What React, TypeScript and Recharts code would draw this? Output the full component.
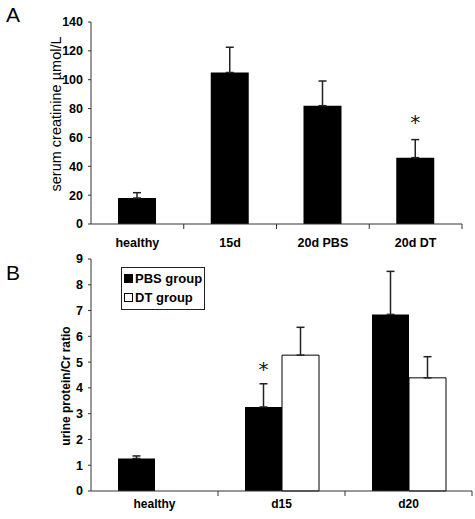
import React from 'react';
import { BarChart, Bar, XAxis, YAxis, ErrorBar, LabelList, Legend } from 'recharts';

const FONT = '"Liberation Sans", Arial, Helvetica, sans-serif';
const AXIS = '#333';

// panel A: serum creatinine
const groupsA = ['healthy', '15d', '20d PBS', '20d DT'];
const creatinine = [18, 105, 82, 46];
const creatinineErr = [3.7, 17.5, 17.1, 12.5];
const sigA = ['', '', '', '*'];
const ticksA = [0, 20, 40, 60, 80, 100, 120, 140];

// panel B: urine protein / creatinine ratio
const seriesB = ['PBS group', 'DT group'];
const groupsB = ['healthy', 'd15', 'd20'];
const pbsRatio = [1.26, 3.26, 6.85];
const pbsErr = [0.1, 0.9, 1.67];
const dtRatio = [null, 5.27, 4.39];
const dtErr = [null, 1.08, 0.82];
const sigB = ['', '*', ''];
const ticksB = [0, 1, 2, 3, 4, 5, 6, 7, 8, 9];

const dataA = groupsA.map((name, i) => ({
  name,
  value: creatinine[i],
  err: [0, creatinineErr[i]],
  sig: sigA[i],
}));

const dataB = groupsB.map((name, i) => ({
  name,
  pbs: pbsRatio[i],
  pbsErr: [0, pbsErr[i]],
  dt: dtRatio[i],
  dtErr: dtErr[i] == null ? null : [0, dtErr[i]],
  sig: sigB[i],
}));

const CatTick = ({ x, y, payload, dy, fontSize, half }: any) => {
  const off = payload && payload.offset ? payload.offset : half;
  return (
    <g>
      <line x1={x + off} x2={x + off} y1={y} y2={y + 5} stroke={AXIS} strokeWidth={1} />
      <text x={x} y={y + dy} textAnchor="middle" fontFamily={FONT} fontWeight="bold" fontSize={fontSize} fill="#000">
        {payload.value}
      </text>
    </g>
  );
};

const AxisTitle = ({ cx, cy, text, size, weight }: any) => (
  <text
    x={cx}
    y={cy}
    transform={`rotate(-90, ${cx}, ${cy})`}
    textAnchor="middle"
    dominantBaseline="central"
    fontFamily={FONT}
    fontSize={size}
    fontWeight={weight}
    fill="#000"
  >
    {text}
  </text>
);

const Star = (props: any) => {
  const { value, lift } = props;
  if (!value) return null;
  const vb = props.viewBox ?? props;
  return (
    <text x={vb.x + vb.width / 2} y={vb.y - lift} textAnchor="middle" fontFamily="DejaVu Sans" fontSize={20} fill="#111">
      {value}
    </text>
  );
};

const LegendBox = ({ payload }: any) => {
  const items = [...(payload || [])].sort((a: any, b: any) => seriesB.indexOf(a.value) - seriesB.indexOf(b.value));
  return (
    <div
      style={{
        border: '1px solid #222',
        padding: '1px 2px 2px 2px',
        fontFamily: FONT,
        fontWeight: 'bold',
        fontSize: 13,
        lineHeight: '19px',
        background: '#fff',
        whiteSpace: 'nowrap',
      }}
    >
      {items.map((p: any) => (
        <div key={p.value} style={{ display: 'flex', alignItems: 'center' }}>
          <span
            style={{
              display: 'inline-block',
              width: 7,
              height: 7,
              marginRight: 2,
              background: p.payload?.fill ?? p.color,
              border: '1px solid #000',
            }}
          />
          {p.value}
        </div>
      ))}
    </div>
  );
};

const tickStyle = { fill: '#000', fontSize: 12.5, fontWeight: 'bold', fontFamily: FONT };

export default function App() {
  return (
    <div style={{ position: 'absolute', left: 0, top: 0, width: 475, height: 519, background: '#fff' }}>
      <div style={{ position: 'absolute', left: 6, top: 4, fontFamily: FONT, fontSize: 21, lineHeight: 1 }}>A</div>
      <div style={{ position: 'absolute', left: 6, top: 262, fontFamily: FONT, fontSize: 21, lineHeight: 1 }}>B</div>

      <div style={{ position: 'absolute', left: 0, top: 0 }}>
        <BarChart width={475} height={250} data={dataA} margin={{ top: 22, right: 13, bottom: 0, left: 0 }}>
          <XAxis
            dataKey="name"
            height={26}
            axisLine={{ stroke: AXIS }}
            tickLine={false}
            tickSize={0}
            tickMargin={0}
            interval={0}
            tick={<CatTick dy={23} fontSize={12.5} half={46.4} />}
          />
          <YAxis
            width={91}
            domain={[0, 140]}
            ticks={ticksA}
            interval={0}
            axisLine={{ stroke: AXIS }}
            tickLine={{ stroke: AXIS }}
            tickSize={3}
            tickMargin={5}
            tick={tickStyle}
            label={<AxisTitle cx={56} cy={114} text="serum creatinine µmol/L" size={14.5} weight="normal" />}
          />
          <Bar dataKey="value" fill="#000" barSize={38} isAnimationActive={false}>
            <ErrorBar dataKey="err" width={4} stroke="#222" strokeWidth={1.5} direction="y" />
            <LabelList dataKey="sig" content={<Star lift={29} />} />
          </Bar>
        </BarChart>
      </div>

      <div style={{ position: 'absolute', left: 0, top: 250 }}>
        <BarChart width={475} height={269} data={dataB} margin={{ top: 9, right: 3, bottom: 0, left: 0 }} barGap={0}>
          <XAxis
            dataKey="name"
            height={28}
            axisLine={{ stroke: AXIS }}
            tickLine={false}
            tickSize={0}
            tickMargin={0}
            interval={0}
            tick={<CatTick dy={17} fontSize={12} half={63.5} />}
          />
          <YAxis
            width={91}
            domain={[0, 9]}
            ticks={ticksB}
            interval={0}
            axisLine={{ stroke: AXIS }}
            tickLine={{ stroke: AXIS }}
            tickSize={3}
            tickMargin={5}
            tick={tickStyle}
            label={<AxisTitle cx={66} cy={136} text="urine protein/Cr ratio" size={12} weight="bold" />}
          />
          <Legend
            layout="vertical"
            align="center"
            verticalAlign="middle"
            wrapperStyle={{ left: 121, top: 17, width: 'auto' }}
            content={<LegendBox />}
          />
          <Bar dataKey="pbs" name={seriesB[0]} fill="#000" barSize={37} isAnimationActive={false}>
            <ErrorBar dataKey="pbsErr" width={4} stroke="#222" strokeWidth={1.5} direction="y" />
            <LabelList dataKey="sig" content={<Star lift={31} />} />
          </Bar>
          <Bar dataKey="dt" name={seriesB[1]} fill="#fff" stroke="#000" strokeWidth={1} barSize={37} isAnimationActive={false}>
            <ErrorBar dataKey="dtErr" width={4} stroke="#222" strokeWidth={1.5} direction="y" />
          </Bar>
        </BarChart>
      </div>
    </div>
  );
}
